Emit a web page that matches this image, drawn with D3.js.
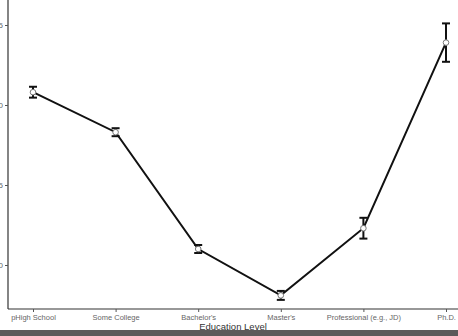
<!DOCTYPE html>
<html>
<head>
<meta charset="utf-8">
<script src="https://cdn.jsdelivr.net/npm/d3@7"></script>
<style>
  body { margin: 0; background: #fff; }
  svg { display: block; }
</style>
</head>
<body>
<svg id="chart"></svg>
<script>
const categories = ["pHigh School", "Some College", "Bachelor's", "Master's", "Professional (e.g., JD)", "Ph.D."];
const means = [3.08, 2.83, 2.10, 1.81, 2.23, 3.39];
const errors = [0.034, 0.025, 0.025, 0.028, 0.065, 0.12];
const yTicks = [2.0, 2.5, 3.0, 3.5];

const w = 458, h = 336;
const svg = d3.select("#chart").attr("width", w).attr("height", h);

const xScale = d3.scalePoint()
    .domain(categories)
    .range([33, 446]);

const yScale = d3.scaleLinear()
    .domain([2.0, 3.5])
    .range([265, 25]);

const axisX = 8, axisY = 309;

// axes
svg.append("g")
    .attr("transform", `translate(0,${axisY})`)
    .call(d3.axisBottom(xScale).tickSize(3).tickSizeOuter(0).tickPadding(3))
    .call(g => g.select(".domain").attr("d", `M${axisX},0H${w}`).attr("stroke", "#333").attr("stroke-width", 1.2))
    .call(g => g.selectAll(".tick line").attr("stroke", "#555"))
    .call(g => g.selectAll("text").attr("fill", "#666").style("font-family", "'Liberation Sans', Arial, sans-serif").style("font-size", "7.5px"));

svg.append("g")
    .attr("transform", `translate(${axisX},0)`)
    .call(d3.axisLeft(yScale).tickValues(yTicks).tickFormat(d3.format(".1f")).tickSize(3).tickPadding(2))
    .call(g => g.select(".domain").attr("d", `M0,0V${axisY}`).attr("stroke", "#333").attr("stroke-width", 1.2))
    .call(g => g.selectAll(".tick line").attr("stroke", "#555"))
    .call(g => g.selectAll("text").attr("fill", "#666").style("font-family", "'Liberation Sans', Arial, sans-serif").style("font-size", "8px"));

// axis title, partly hidden by the bottom strip
svg.append("text")
    .attr("x", 233)
    .attr("y", 330)
    .attr("text-anchor", "middle")
    .attr("fill", "#333")
    .style("font-family", "'Liberation Sans', Arial, sans-serif")
    .style("font-size", "9.5px")
    .text("Education Level");

const pts = categories.map((c, i) => ({ c: c, m: means[i], e: errors[i] }));

// line
svg.append("path")
    .datum(pts)
    .attr("fill", "none")
    .attr("stroke", "#111")
    .attr("stroke-width", 2)
    .attr("d", d3.line().x(d => xScale(d.c)).y(d => yScale(d.m)));

// error bars
const eb = svg.append("g").selectAll("g").data(pts).join("g");
eb.append("line")
    .attr("x1", d => xScale(d.c)).attr("x2", d => xScale(d.c))
    .attr("y1", d => yScale(d.m - d.e)).attr("y2", d => yScale(d.m + d.e))
    .attr("stroke", "#111").attr("stroke-width", 2);
eb.selectAll(".cap")
    .data(d => [d.m - d.e, d.m + d.e].map(v => ({ c: d.c, v: v })))
    .join("line")
    .attr("class", "cap")
    .attr("x1", d => xScale(d.c) - 4).attr("x2", d => xScale(d.c) + 4)
    .attr("y1", d => yScale(d.v)).attr("y2", d => yScale(d.v))
    .attr("stroke", "#111").attr("stroke-width", 2);

// points
svg.append("g").selectAll("circle").data(pts).join("circle")
    .attr("cx", d => xScale(d.c))
    .attr("cy", d => yScale(d.m))
    .attr("r", 2.8)
    .attr("fill", "#fff")
    .attr("stroke", "#777")
    .attr("stroke-width", 1);

// bottom strip
svg.append("rect")
    .attr("x", 0).attr("y", 330).attr("width", w).attr("height", 6)
    .attr("fill", "#5a5a5a");
</script>
</body>
</html>
